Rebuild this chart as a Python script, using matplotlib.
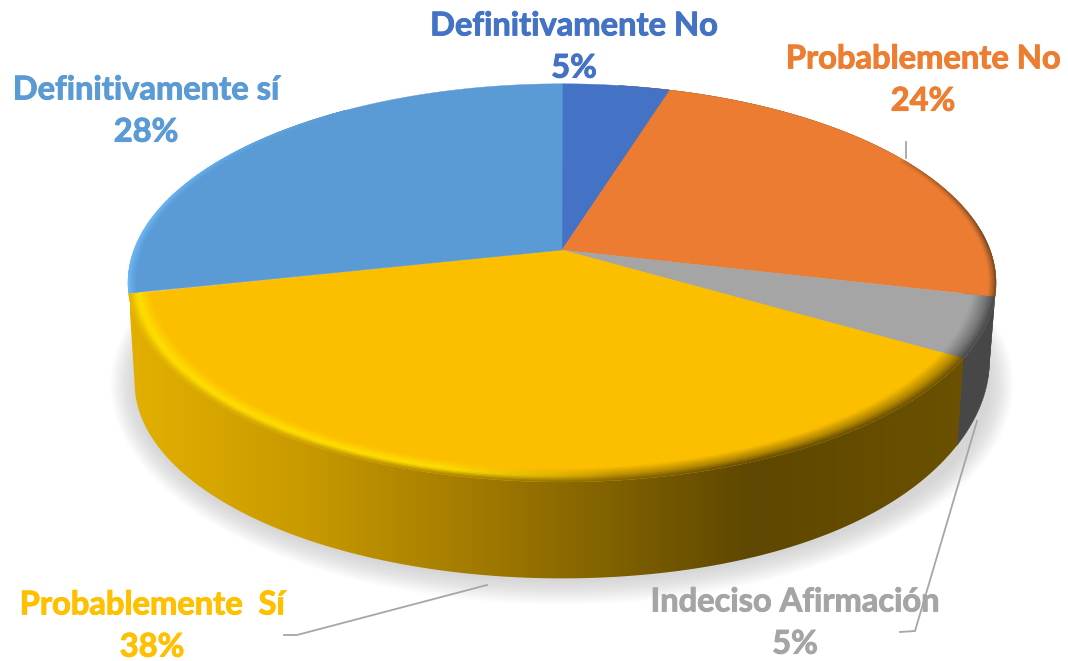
import numpy as np
import matplotlib
matplotlib.use('Agg')
import matplotlib.pyplot as plt
import matplotlib.patheffects as pe
from matplotlib.collections import PolyCollection
from matplotlib.colors import LinearSegmentedColormap, to_rgb

labels = ['Definitivamente No', 'Probablemente No', 'Indeciso Afirmación', 'Probablemente  Sí', 'Definitivamente sí']
# shares, they round to the printed percentages
values = [4.7, 24.0, 4.8, 37.9, 28.4]
colors = ['#4472C4', '#EB7C31', '#A5A5A5', '#FCBF00', '#5B9BD5']
label_colors = ['#4472C4', '#ED7D31', '#A5A5A5', '#FFC000', '#5B9BD5']
label_pos = [(574, 47), (923, 80), (795, 623), (152, 626), (146, 111)]

CX, CY = 562, 250
A, B, K = 428, 193.6, 0.165

WALL_X = [130, 300, 450, 600, 750, 970]
WALL_C = ['#E3B000', '#C99A00', '#A87F00', '#846400', '#5E4700', '#6B5100']


def project(theta, r=1.0):
    # theta in degrees, clockwise from the top of the pie
    t = np.radians(theta)
    x, y = r * np.sin(t), r * np.cos(t)
    w = 1 + K * y
    return CX + A * x / w, CY - B * y / w


def bottom(theta):
    px, py = project(theta)
    s = np.clip(np.sin(np.radians(theta)), 0, 1)
    return CX + 0.985 * (px - CX), CY + 0.985 * (py - CY) + 100 - 22 * s ** 4


def mix(c1, c2, t):
    return tuple((1 - t) * a + t * b for a, b in zip(c1, c2))


def wall_color(x):
    stops = [to_rgb(c) for c in WALL_C]
    return tuple(np.interp(x, WALL_X, [s[i] for s in stops]) for i in range(3))


def wall_outline(th1, th2):
    th = np.arange(th1, th2 + 0.25, 0.5)
    px, py = project(th)
    qx, qy = bottom(th)
    return np.r_[px, qx[::-1]], np.r_[py, qy[::-1]]


def draw_bevel(ax, th1, th2, face, outer_fn, width, high_fn, weight_fn, z):
    face = to_rgb(face)
    th = np.arange(th1, th2 + 0.25, 0.5)
    radii = np.linspace(1 - width, 1, 11)
    polys, cols = [], []
    for a, b in zip(th[:-1], th[1:]):
        x = project(a)[0]
        outer = outer_fn(x)
        h = high_fn(x)
        w = weight_fn((a + b) / 2)
        target = mix(mix(face, outer, 0.5), to_rgb('#FFE000'), h)
        for i in range(10):
            t = (i + 0.5) / 10
            if t < 0.6:
                c = mix(face, target, t / 0.6)
            else:
                c = mix(target, outer, (t - 0.6) / 0.4)
            c = mix(face, c, w)
            polys.append([project(a, radii[i]), project(b, radii[i]), project(b, radii[i + 1]), project(a, radii[i + 1])])
            cols.append(c)
    ax.add_collection(PolyCollection(polys, facecolors=cols, edgecolors=cols, linewidths=0.4, zorder=z))


fig = plt.figure(figsize=(10.68, 6.61), dpi=100)
ax = fig.add_axes([0, 0, 1, 1])
ax.axis('off')

# soft shadow below the pie
th_all = np.arange(0, 360.5, 1.0)
bx, by = bottom(th_all)
ex, ey = (bx.max() + bx.min()) / 2, (by.max() + by.min()) / 2
t_all = np.radians(th_all)
for grow in np.linspace(24, 0, 16):
    sx = (bx.max() - bx.min()) / 2 + grow
    sy = (by.max() - by.min()) / 2 + grow
    ax.fill(ex + sx * np.sin(t_all), ey + 2 + sy * np.cos(t_all), color='#808080', alpha=0.018, lw=0, zorder=1)

# boundaries of the slices come from the values
edges = 360 * np.cumsum([0] + values) / sum(values)

wx, wy = wall_outline(edges[1] - 8, edges[2])
ax.fill(wx, wy, color='#6E4218', lw=0.3, zorder=2)
wx, wy = wall_outline(edges[2], edges[3])
ax.fill(wx, wy, color='#474747', lw=0.3, zorder=2)

# gradient on the front wall of the big slice
wx, wy = wall_outline(edges[3], edges[4])
poly = ax.fill(wx, wy, color='none', lw=0, zorder=3)[0]
cmap = LinearSegmentedColormap.from_list(
    'wall', [((x - WALL_X[0]) / (WALL_X[-1] - WALL_X[0]), c) for x, c in zip(WALL_X, WALL_C)])
img = ax.imshow(np.linspace(0, 1, 512).reshape(1, -1), cmap=cmap, aspect='auto', zorder=3,
                extent=[WALL_X[0], WALL_X[-1], 661, 0], interpolation='bilinear')
img.set_clip_path(poly)

for i in range(len(values)):
    th = np.arange(edges[i], edges[i + 1] + 0.25, 0.5)
    rx, ry = project(th)
    ax.fill(np.r_[CX, rx], np.r_[CY, ry], color=colors[i], lw=0.3, zorder=4)

no_high = lambda x: 0.0
full = lambda th: 1.0
draw_bevel(ax, 60, edges[2], colors[1], lambda x: to_rgb('#7A4A20'), 0.016, no_high,
           lambda th: float(np.clip((th - 45) / 40, 0, 1)), 5)
draw_bevel(ax, edges[2], edges[3], colors[2], lambda x: to_rgb('#474747'), 0.05, no_high, full, 5)
draw_bevel(ax, edges[3], edges[4], colors[3], wall_color, 0.05,
           lambda x: float(np.interp(x, [130, 440, 620], [1, 1, 0])), full, 6)
draw_bevel(ax, edges[4], 325, colors[4], lambda x: to_rgb('#6CB8F8'), 0.02, no_high,
           lambda th: float(np.clip((325 - th) / 45, 0, 1)), 5)

# leader lines
for lx, ly in [([906, 906], [142, 158]),
               ([284, 297, 487], [635, 635, 585]),
               ([900, 915, 977], [632, 631, 421])]:
    ax.plot(lx, ly, color='#A6A6A6', lw=1.3, zorder=7)

for lab, val, col, pos in zip(labels, values, label_colors, label_pos):
    ax.text(pos[0], pos[1], f'{lab}\n{round(val)}%', color=col, ha='center', va='center',
            fontsize=23.5, fontweight='bold', family='Lato', linespacing=1.55, zorder=8,
            path_effects=[pe.withStroke(linewidth=0.7, foreground=col)])

ax.set_xlim(0, 1068)
ax.set_ylim(661, 0)

fig.savefig('out.png', dpi=100)
